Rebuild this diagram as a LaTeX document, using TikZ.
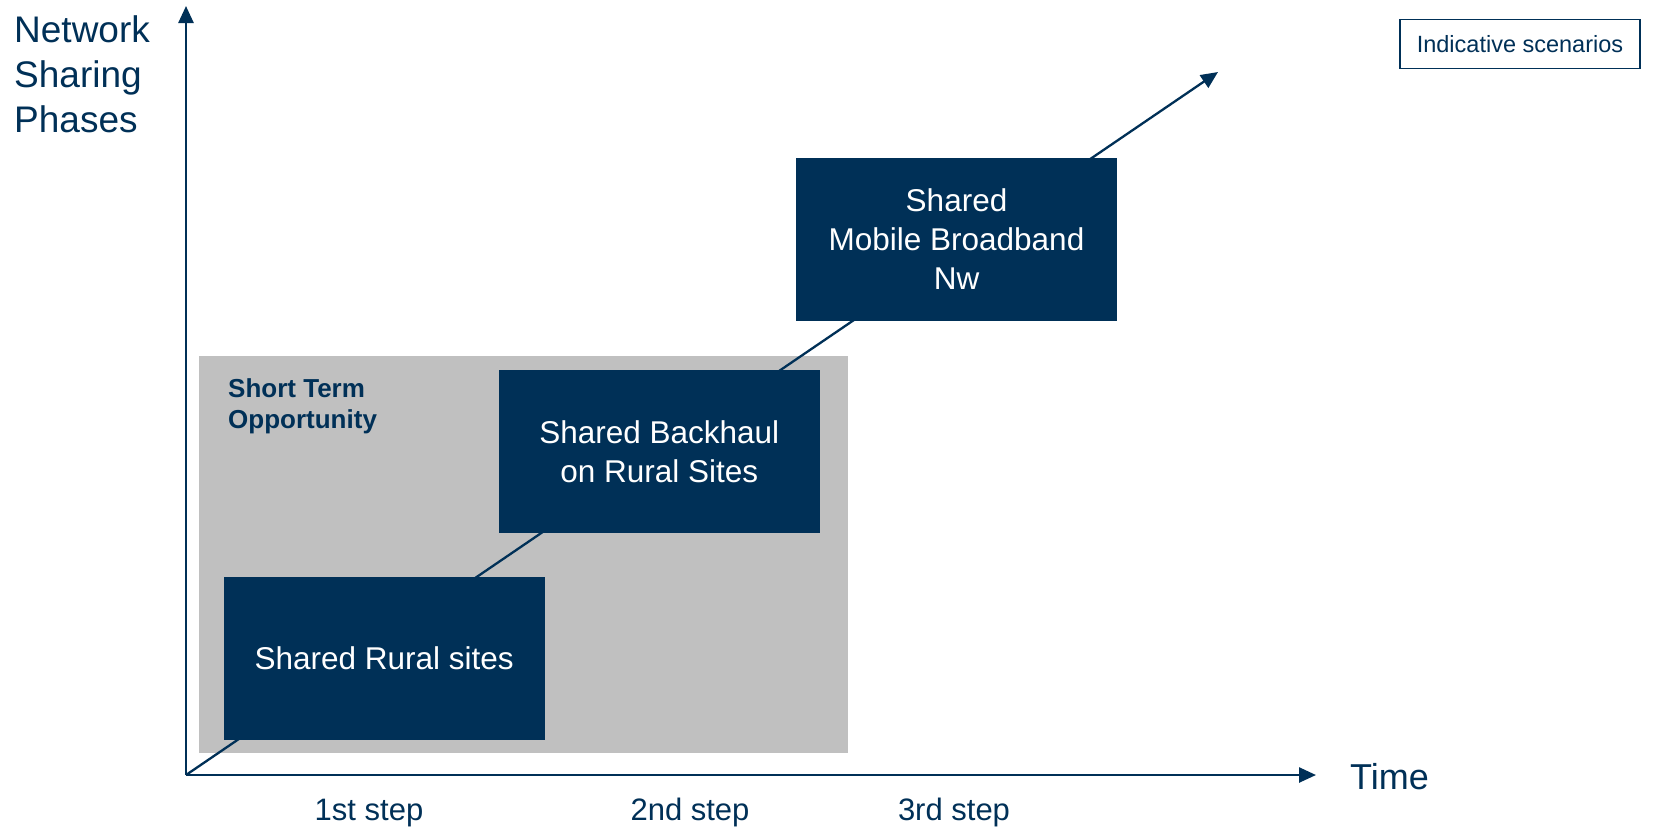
\documentclass[tikz,border=0pt]{standalone}
\usepackage{fontspec}
\setmainfont{Liberation Sans}
\usetikzlibrary{arrows.meta}
\definecolor{navy}{HTML}{003057}
\definecolor{panel}{HTML}{C0C0C0}
\tikzset{
  axis/.style={draw=navy, line width=2.5pt, -{Triangle[length=17pt,width=15pt]}},
  trend/.style={draw=navy, line width=2.3pt, -{Triangle[length=17pt,width=15pt]}},
  phasebox/.style={fill=navy, text=white, draw=none, font=\fontsize{31.5}{39}\selectfont, align=center, inner sep=0pt},
  steplabel/.style={text=navy, font=\fontsize{31}{37}\selectfont, anchor=base, inner sep=0pt},
}
\begin{document}
\begin{tikzpicture}[x=1pt,y=-1pt]
\useasboundingbox (0,0) rectangle (1653,827);
\fill[white] (0,0) rectangle (1653,827);

% short-term panel
\node[fill=panel, minimum width=649pt, minimum height=397pt, inner sep=0pt, anchor=north west] (panel) at (199,356) {};
\node[anchor=base west, inner sep=0pt, text=navy, align=left, font=\bfseries\fontsize{26}{31}\selectfont] (stlabel) at (228,428) {Short Term\\Opportunity};

% axes
\coordinate (origin) at (186,775);
\coordinate (ytop) at (186,6);
\coordinate (xend) at (1316,775);
\coordinate (trendtip) at (1218,72);
\draw[axis] (origin) -- (ytop);
\draw[axis] (origin) -- (xend);
\draw[trend] (origin) -- (trendtip);

% phase boxes
\node[phasebox, minimum width=321.5pt, minimum height=163pt] (rural) at (384.25,658.5) {Shared Rural sites};
\node[phasebox, minimum width=321.5pt, minimum height=163pt] (backhaul) at (659.25,451.5) {Shared Backhaul\\on Rural Sites};
\node[phasebox, minimum width=321pt, minimum height=163.5pt] (broadband) at (956.5,239.5) {Shared\\Mobile Broadband\\Nw};

% axis labels
\node[anchor=north west, inner sep=0pt, text=navy, align=left, font=\fontsize{37}{45}\selectfont] (ylabel) at (14,15) {Network\\Sharing\\Phases};
\node[anchor=base west, inner sep=0pt, text=navy, font=\fontsize{36}{43}\selectfont] (xlabel) at (1350,789) {Time};
\node[steplabel] (step1) at (369,820) {1st step};
\node[steplabel] (step2) at (690,820) {2nd step};
\node[steplabel] (step3) at (954,820) {3rd step};

% legend tag
\node[draw=navy, line width=1.5pt, text=navy, minimum width=240pt, minimum height=49pt, inner sep=0pt, font=\fontsize{23.5}{28}\selectfont] (tag) at (1520,44) {Indicative scenarios};
\end{tikzpicture}
\end{document}
